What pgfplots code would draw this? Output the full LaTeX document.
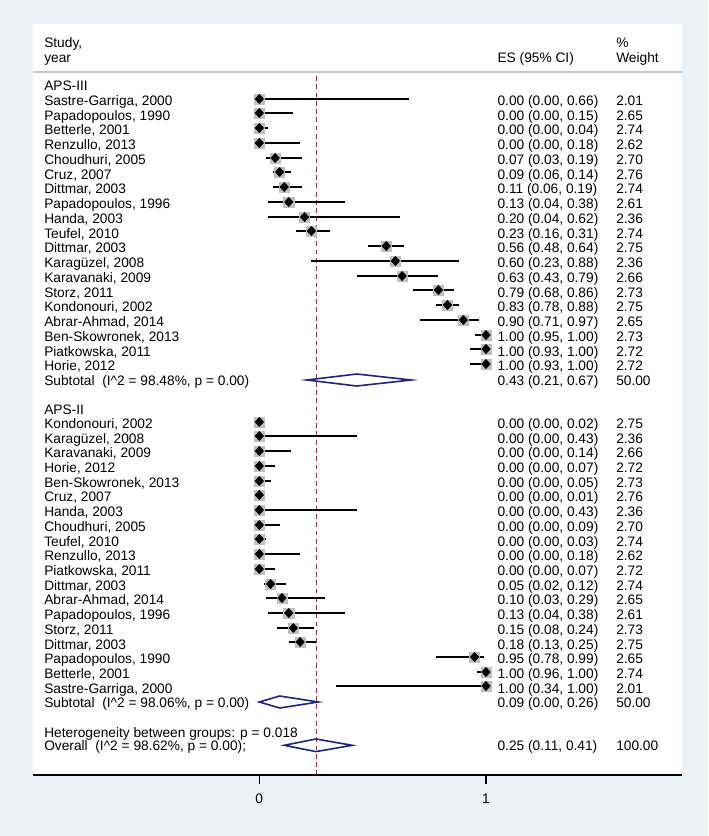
\documentclass[border=0pt]{standalone}
\usepackage{pgfplots}
\pgfplotsset{compat=1.18}
\usepackage{pgfplotstable}
\usepackage{fontspec}
\setmainfont{Liberation Sans}
\definecolor{bgblue}{RGB}{234,242,245}
\definecolor{navyd}{RGB}{28,38,128}
\definecolor{refred}{RGB}{140,50,70}
\newcommand\fs{\fontsize{10.3pt}{12pt}\selectfont}

% APS-III : es lo hi, marker y (pixels from top)
\pgfplotstableread{
es lo hi y
0.00 0.00 0.66 99
0.00 0.00 0.15 113
0.00 0.00 0.04 128
0.00 0.00 0.18 143
0.07 0.03 0.19 158
0.09 0.06 0.14 172
0.11 0.06 0.19 187
0.13 0.04 0.38 202
0.20 0.04 0.62 217
0.23 0.16 0.31 231
0.56 0.48 0.64 246
0.60 0.23 0.88 261
0.63 0.43 0.79 276
0.79 0.68 0.86 290
0.83 0.78 0.88 305
0.90 0.71 0.97 320
1.00 0.95 1.00 335
1.00 0.93 1.00 349
1.00 0.93 1.00 364
}\groupone

% APS-II
\pgfplotstableread{
es lo hi y
0.00 0.00 0.02 422
0.00 0.00 0.43 436
0.00 0.00 0.14 451
0.00 0.00 0.07 466
0.00 0.00 0.05 481
0.00 0.00 0.01 495
0.00 0.00 0.43 510
0.00 0.00 0.09 525
0.00 0.00 0.03 539
0.00 0.00 0.18 554
0.00 0.00 0.07 569
0.05 0.02 0.12 584
0.10 0.03 0.29 598
0.13 0.04 0.38 613
0.15 0.08 0.24 628
0.18 0.13 0.25 642
0.95 0.78 0.99 657
1.00 0.96 1.00 672
1.00 0.34 1.00 686
}\grouptwo

\newcommand\rowtxt[4]{%
  \node at (44,#1) {#2};
  \node at (497.3,#1) {#3};
  \node at (616,#1) {#4};}

\begin{document}
\begin{tikzpicture}
\path[use as bounding box, fill=bgblue] (0,0) rectangle (531pt,-627pt);
\begin{axis}[
  at={(24.75pt,-18pt)}, anchor=north west,
  scale only axis, width=486.75pt, height=563.25pt,
  xmin=-0.9982, xmax=1.8646, ymin=-775, ymax=-24,
  axis x line*=bottom, axis y line=none,
  axis background/.style={fill=white},
  xtick={0,1}, xticklabels={0,1}, ytick=\empty,
  tick align=outside, major tick length=6.75pt,
  x axis line style={line width=1.1pt, black},
  xtick style={line width=1pt, black},
  xticklabel style={font=\fs, yshift=-4pt},
  clip=false,
]
% reference (overall estimate) line
\addplot[refred, line width=0.7pt, dash pattern=on 3.6pt off 2.6pt] coordinates {(0.25,-76) (0.25,-775)};

% confidence intervals
\addplot[draw=none, mark=none, error bars/.cd, x dir=both, x explicit, error mark=none,
  error bar style={draw=black, line width=1.5pt, solid}]
  table[x=es, y expr=-\thisrow{y}, x error plus expr=\thisrow{hi}-\thisrow{es}, x error minus expr=\thisrow{es}-\thisrow{lo}] {\groupone};
\addplot[draw=none, mark=none, error bars/.cd, x dir=both, x explicit, error mark=none,
  error bar style={draw=black, line width=1.5pt, solid}]
  table[x=es, y expr=-\thisrow{y}, x error plus expr=\thisrow{hi}-\thisrow{es}, x error minus expr=\thisrow{es}-\thisrow{lo}] {\grouptwo};

% weight boxes
\addplot[only marks, mark=square*, mark size=3.8pt, color=gray!50] table[x=es, y expr=-\thisrow{y}] {\groupone};
\addplot[only marks, mark=square*, mark size=3.8pt, color=gray!50] table[x=es, y expr=-\thisrow{y}] {\grouptwo};
% point estimates
\addplot[only marks, mark=diamond*, mark size=3.4pt, black, mark options={xscale=1.25}] table[x=es, y expr=-\thisrow{y}] {\groupone};
\addplot[only marks, mark=diamond*, mark size=3.4pt, black, mark options={xscale=1.25}] table[x=es, y expr=-\thisrow{y}] {\grouptwo};

% pooled diamonds
\addplot[navyd, line width=1.2pt, mark=none] coordinates {(0.21,-380) (0.43,-374) (0.67,-380) (0.43,-386)} -- cycle;
\addplot[navyd, line width=1.2pt, mark=none] coordinates {(0.00,-702) (0.09,-696) (0.26,-702) (0.09,-708)} -- cycle;
\addplot[navyd, line width=1.2pt, mark=none] coordinates {(0.11,-745.3) (0.25,-739) (0.41,-745.3) (0.25,-751.6)} -- cycle;
\end{axis}

\begin{scope}[x=0.75pt, y=-0.75pt, every node/.style={anchor=base west, inner sep=0pt, font=\fs}]
\draw[gray!45, line width=0.8pt] (33,72) -- (682,72);
\node at (44,47.5) {Study,};
\node at (44,62.2) {year};
\node at (497.3,62.2) {ES (95\% CI)};
\node at (616,47.5) {\%};
\node at (616,62.2) {Weight};

\node at (44,90.0) {APS-III};
\rowtxt{105.40}{Sastre-Garriga, 2000}{0.00 (0.00, 0.66)}{2.01}
\rowtxt{120.15}{Papadopoulos, 1990}{0.00 (0.00, 0.15)}{2.65}
\rowtxt{134.90}{Betterle, 2001}{0.00 (0.00, 0.04)}{2.74}
\rowtxt{149.65}{Renzullo, 2013}{0.00 (0.00, 0.18)}{2.62}
\rowtxt{164.40}{Choudhuri, 2005}{0.07 (0.03, 0.19)}{2.70}
\rowtxt{179.15}{Cruz, 2007}{0.09 (0.06, 0.14)}{2.76}
\rowtxt{193.90}{Dittmar, 2003}{0.11 (0.06, 0.19)}{2.74}
\rowtxt{208.65}{Papadopoulos, 1996}{0.13 (0.04, 0.38)}{2.61}
\rowtxt{223.40}{Handa, 2003}{0.20 (0.04, 0.62)}{2.36}
\rowtxt{238.15}{Teufel, 2010}{0.23 (0.16, 0.31)}{2.74}
\rowtxt{252.90}{Dittmar, 2003}{0.56 (0.48, 0.64)}{2.75}
\rowtxt{267.65}{Karagüzel, 2008}{0.60 (0.23, 0.88)}{2.36}
\rowtxt{282.40}{Karavanaki, 2009}{0.63 (0.43, 0.79)}{2.66}
\rowtxt{297.15}{Storz, 2011}{0.79 (0.68, 0.86)}{2.73}
\rowtxt{311.90}{Kondonouri, 2002}{0.83 (0.78, 0.88)}{2.75}
\rowtxt{326.65}{Abrar-Ahmad, 2014}{0.90 (0.71, 0.97)}{2.65}
\rowtxt{341.40}{Ben-Skowronek, 2013}{1.00 (0.95, 1.00)}{2.73}
\rowtxt{356.15}{Piatkowska, 2011}{1.00 (0.93, 1.00)}{2.72}
\rowtxt{370.90}{Horie, 2012}{1.00 (0.93, 1.00)}{2.72}
\rowtxt{385.30}{Subtotal\ \ (I\textasciicircum 2 = 98.48\%, p = 0.00)}{0.43 (0.21, 0.67)}{50.00}

\node at (44,414.3) {APS-II};
\rowtxt{428.40}{Kondonouri, 2002}{0.00 (0.00, 0.02)}{2.75}
\rowtxt{443.11}{Karagüzel, 2008}{0.00 (0.00, 0.43)}{2.36}
\rowtxt{457.82}{Karavanaki, 2009}{0.00 (0.00, 0.14)}{2.66}
\rowtxt{472.53}{Horie, 2012}{0.00 (0.00, 0.07)}{2.72}
\rowtxt{487.24}{Ben-Skowronek, 2013}{0.00 (0.00, 0.05)}{2.73}
\rowtxt{501.95}{Cruz, 2007}{0.00 (0.00, 0.01)}{2.76}
\rowtxt{516.66}{Handa, 2003}{0.00 (0.00, 0.43)}{2.36}
\rowtxt{531.37}{Choudhuri, 2005}{0.00 (0.00, 0.09)}{2.70}
\rowtxt{546.08}{Teufel, 2010}{0.00 (0.00, 0.03)}{2.74}
\rowtxt{560.79}{Renzullo, 2013}{0.00 (0.00, 0.18)}{2.62}
\rowtxt{575.50}{Piatkowska, 2011}{0.00 (0.00, 0.07)}{2.72}
\rowtxt{590.21}{Dittmar, 2003}{0.05 (0.02, 0.12)}{2.74}
\rowtxt{604.92}{Abrar-Ahmad, 2014}{0.10 (0.03, 0.29)}{2.65}
\rowtxt{619.63}{Papadopoulos, 1996}{0.13 (0.04, 0.38)}{2.61}
\rowtxt{634.34}{Storz, 2011}{0.15 (0.08, 0.24)}{2.73}
\rowtxt{649.05}{Dittmar, 2003}{0.18 (0.13, 0.25)}{2.75}
\rowtxt{663.76}{Papadopoulos, 1990}{0.95 (0.78, 0.99)}{2.65}
\rowtxt{678.47}{Betterle, 2001}{1.00 (0.96, 1.00)}{2.74}
\rowtxt{693.18}{Sastre-Garriga, 2000}{1.00 (0.34, 1.00)}{2.01}
\rowtxt{707.60}{Subtotal\ \ (I\textasciicircum 2 = 98.06\%, p = 0.00)}{0.09 (0.00, 0.26)}{50.00}

\node at (44,737.2) {Heterogeneity between groups: p = 0.018};
\rowtxt{750.20}{Overall\ \ (I\textasciicircum 2 = 98.62\%, p = 0.00);}{0.25 (0.11, 0.41)}{100.00}
\end{scope}
\end{tikzpicture}
\end{document}
